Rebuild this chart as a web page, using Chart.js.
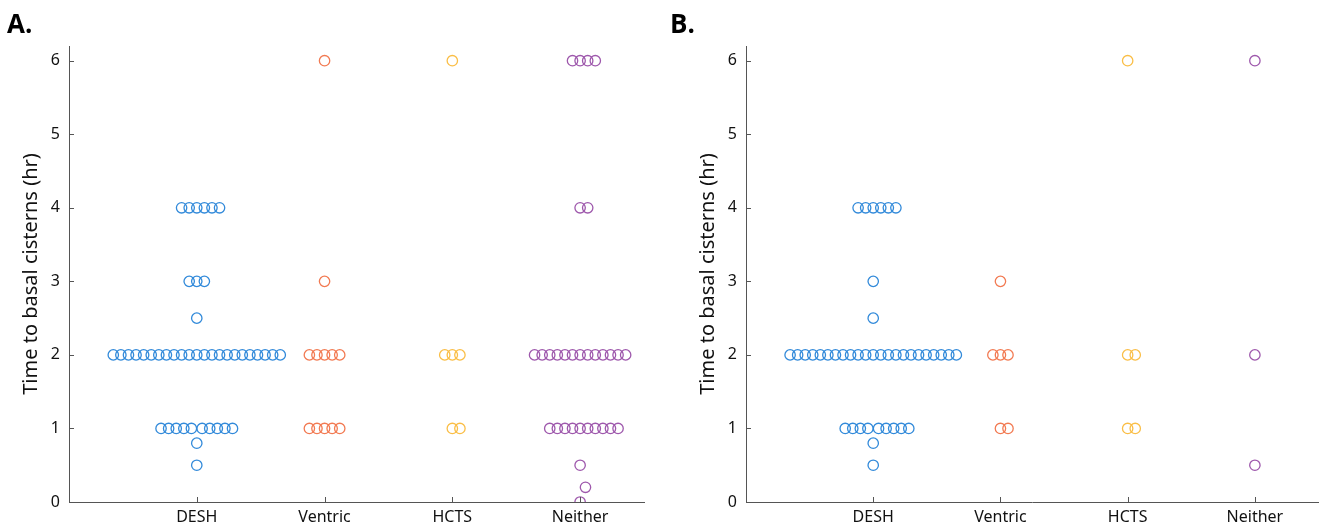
<!DOCTYPE html>
<html>
<head>
<meta charset="utf-8">
<script src="https://cdn.jsdelivr.net/npm/chart.js@4.4.1/dist/chart.umd.min.js"></script>
<style>
  body { margin: 0; background: #fff; }
  #wrap { position: relative; width: 1325px; height: 529px; overflow: hidden; }
  .panel { position: absolute; top: 0; }
  .tag { position: absolute; font: bold 26px "Open Sans", sans-serif; line-height: 26px; color: #000; }
</style>
</head>
<body>
<div id="wrap">
  <canvas id="chartA" class="panel" width="662" height="529" style="left:0px"></canvas>
  <canvas id="chartB" class="panel" width="648" height="529" style="left:677px"></canvas>
  <div class="tag" style="left:7px;top:10px">A.</div>
  <div class="tag" style="left:670px;top:10px">B.</div>
</div>
<script>
const categories = ['DESH', 'Ventric', 'HCTS', 'Neither'];
const yTicks = [0, 1, 2, 3, 4, 5, 6];
const colors = ['rgb(50,138,218)', 'rgb(242,122,82)', 'rgb(250,190,70)', 'rgb(158,88,172)'];

// panel A
const deshA = [4, 4, 4, 4, 4, 4, 3, 3, 3, 2.5,
  2, 2, 2, 2, 2, 2, 2, 2, 2, 2, 2, 2, 2, 2, 2, 2, 2, 2, 2, 2, 2, 2, 2,
  1, 1, 1, 1, 1, 1, 1, 1, 1, 1, 0.8, 0.5];
const ventricA = [6, 3, 2, 2, 2, 2, 2, 1, 1, 1, 1, 1];
const hctsA = [6, 2, 2, 2, 1, 1];
const neitherA = [6, 6, 6, 6, 4, 4,
  2, 2, 2, 2, 2, 2, 2, 2, 2, 2, 2, 2, 2,
  1, 1, 1, 1, 1, 1, 1, 1, 1, 1, 0.5, 0.2, 0];

// panel B
const deshB = [4, 4, 4, 4, 4, 4, 3, 2.5,
  2, 2, 2, 2, 2, 2, 2, 2, 2, 2, 2, 2, 2, 2, 2, 2, 2, 2, 2, 2, 2, 2, 2,
  1, 1, 1, 1, 1, 1, 1, 1, 1, 0.8, 0.5];
const ventricB = [3, 2, 2, 2, 1, 1];
const hctsB = [6, 2, 2, 1, 1];
const neitherB = [6, 2, 0.5];

// beeswarm spread: D = min gap in x units, KY = how much a y unit counts against it
const D = 0.0594;
const KY = 0.21;

function swarm(values, center) {
	const sorted = values.slice().sort((a, b) => a - b);
	const placed = [];
	sorted.forEach(v => {
		const blocks = [];
		placed.forEach(p => {
			const dy = KY * (v - p.y);
			if (Math.abs(dy) < D) {
				const w = Math.sqrt(D * D - dy * dy);
				blocks.push([p.x - w, p.x + w]);
			}
		});
		const cands = [0];
		blocks.forEach(b => cands.push(b[0], b[1]));
		const free = c => blocks.every(b => !(c > b[0] + 1e-9 && c < b[1] - 1e-9));
		let best = null;
		cands.forEach(c => {
			if (!free(c)) return;
			if (best === null || Math.abs(c) < Math.abs(best) - 1e-9 ||
				(Math.abs(Math.abs(c) - Math.abs(best)) < 1e-9 && c > best)) best = c;
		});
		placed.push({ x: best, y: v });
	});
	return placed.map(p => ({ x: center + p.x, y: p.y }));
}

// matlab-style ticks pointing into the plot
const innerTicks = {
	id: 'innerTicks',
	afterDatasetsDraw(chart) {
		const { ctx, scales: { x, y } } = chart;
		ctx.save();
		ctx.strokeStyle = '#555';
		ctx.lineWidth = 1;
		ctx.beginPath();
		x.ticks.forEach(t => {
			const px = Math.round(x.getPixelForValue(t.value)) + 0.5;
			ctx.moveTo(px, y.bottom);
			ctx.lineTo(px, y.bottom - 5);
		});
		y.ticks.forEach(t => {
			const py = Math.round(y.getPixelForValue(t.value)) + 0.5;
			ctx.moveTo(x.left, py);
			ctx.lineTo(x.left + 5, py);
		});
		ctx.stroke();
		ctx.restore();
	}
};

function makeChart(id, groups, rightPad) {
	const datasets = groups.map((vals, i) => ({
		label: categories[i],
		data: swarm(vals, i + 1),
		pointStyle: 'circle',
		pointRadius: 5.2,
		pointHoverRadius: 5.2,
		borderWidth: 1.3,
		borderColor: colors[i],
		backgroundColor: 'rgba(0,0,0,0)'
	}));

	return new Chart(document.getElementById(id).getContext('2d'), {
		type: 'scatter',
		data: { datasets },
		plugins: [innerTicks],
		options: {
			responsive: false,
			animation: false,
			layout: { padding: { top: 46, right: rightPad, left: 0, bottom: 0 } },
			plugins: { legend: { display: false }, tooltip: { enabled: false } },
			scales: {
				x: {
					type: 'linear',
					min: 0,
					max: 4.5,
					afterBuildTicks: s => { s.ticks = [1, 2, 3, 4].map(v => ({ value: v })); },
					afterFit: s => { s.height = 27; },
					grid: { display: false, drawTicks: false },
					border: { display: true, color: '#555', width: 1 },
					ticks: {
						callback: v => categories[v - 1],
						color: '#111',
						padding: 6,
						maxRotation: 0,
						font: { family: '"Noto Sans", sans-serif', size: 16 }
					}
				},
				y: {
					min: 0,
					max: 6.2,
					afterBuildTicks: s => { s.ticks = yTicks.map(v => ({ value: v })); },
					afterFit: s => { s.width = 69; },
					grid: { display: false, drawTicks: false },
					border: { display: true, color: '#555', width: 1 },
					ticks: {
						color: '#111',
						padding: 9,
						font: { family: '"Noto Sans", sans-serif', size: 16 }
					},
					title: {
						display: true,
						text: 'Time to basal cisterns (hr)',
						color: '#111',
						padding: { top: 19, bottom: 0 },
						font: { family: '"Noto Sans", sans-serif', size: 20 }
					}
				}
			}
		}
	});
}

makeChart('chartA', [deshA, ventricA, hctsA, neitherA], 18);
makeChart('chartB', [deshB, ventricB, hctsB, neitherB], 5);
</script>
</body>
</html>
